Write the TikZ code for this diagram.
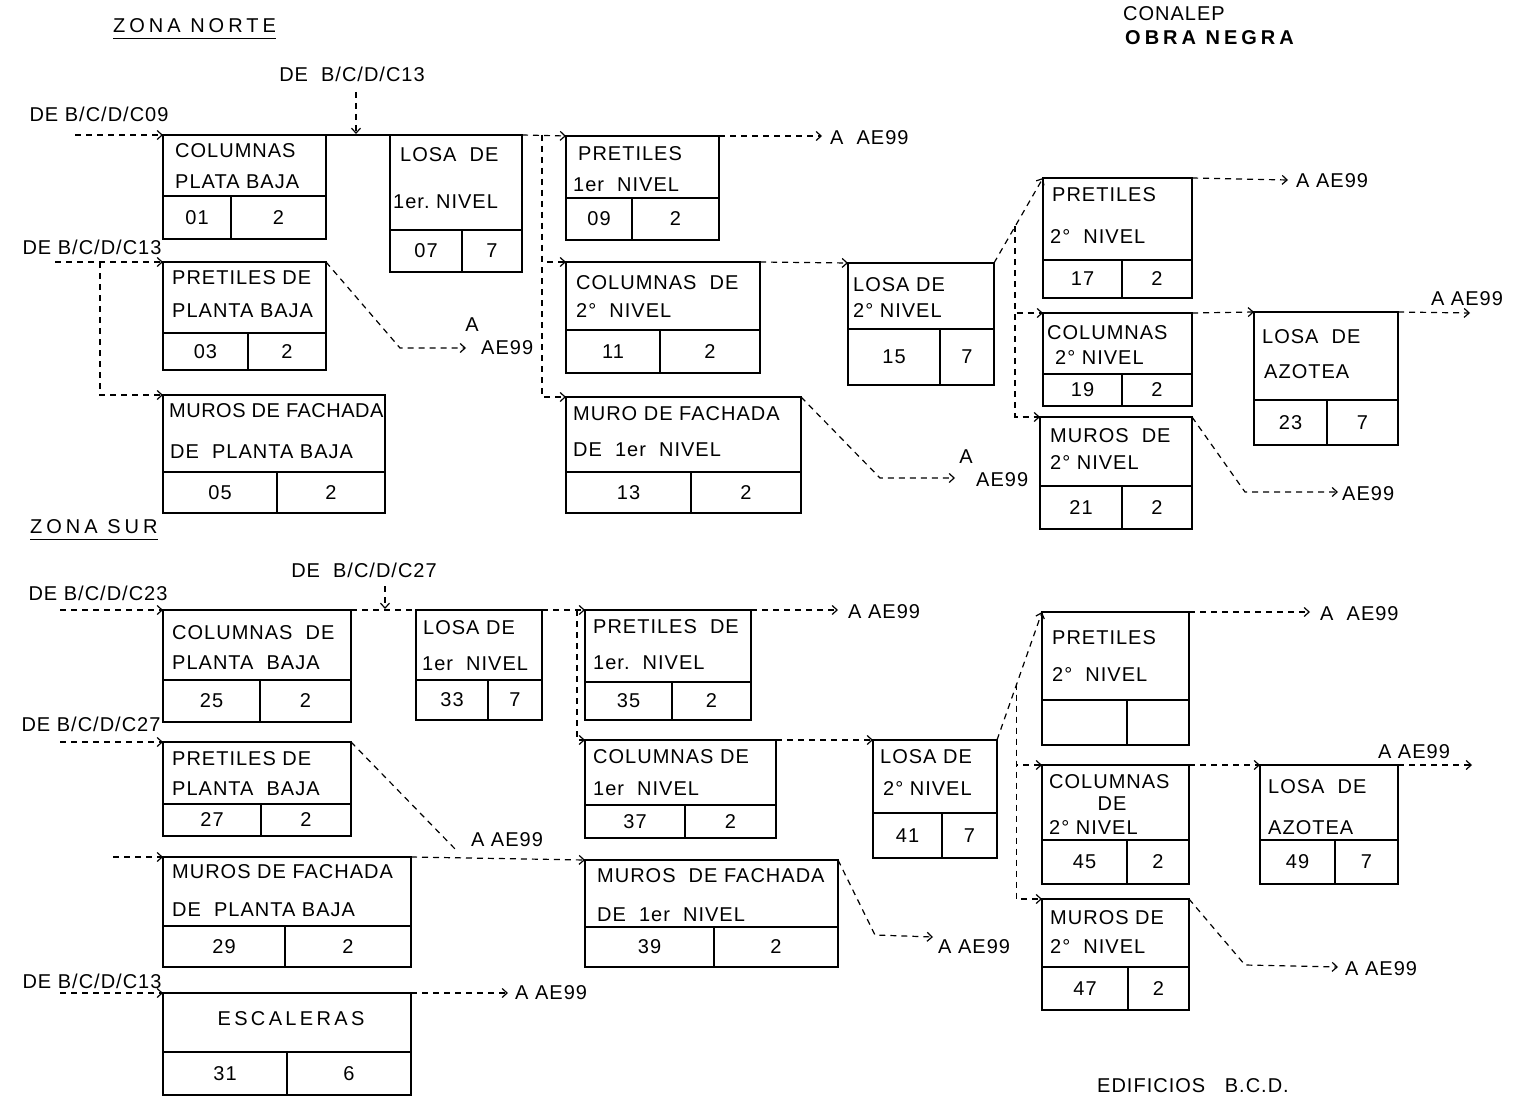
\documentclass[tikz,border=0pt]{standalone}
\usepackage{fontspec}
\setmainfont{Liberation Sans}[LetterSpace=5]
\newfontfamily\widefont{Liberation Sans}[LetterSpace=20]
\newfontfamily\tightfont{Liberation Sans}[LetterSpace=2.5]
\usetikzlibrary{arrows.meta,calc}
\newcommand{\actbox}[9]{%
  \node[boxst, minimum width={#4pt-#2pt}, minimum height={#5pt-#3pt}] (#1) at (#2,#3) {};
  \draw[boxline] (#2,#6) -- (#4,#6) (#7,#6) -- (#7,#5);
  \node[numst] (#1-n) at ({(#2+#7)/2},{(#6+#5)/2}) {#8};
  \node[numst] (#1-m) at ({(#7+#4)/2},{(#6+#5)/2}) {#9};
}
\begin{document}
\begin{tikzpicture}[x=1pt,y=-1pt, font=\fontsize{20}{24}\selectfont,
 boxst/.style={draw, line width=1.5pt, rectangle, inner sep=0pt, outer sep=0pt, anchor=north west},
 boxline/.style={line width=1.5pt},
 numst/.style={inner sep=0pt},
 tx/.style={anchor=west, inner sep=0pt},
 lb/.style={inner sep=0pt},
 dsh/.style={line width=1.2pt, dash pattern=on 6pt off 5pt},
 conn/.style={dsh, -{Straight Barb[length=5pt,width=9pt]}},
]
\useasboundingbox (0,0) rectangle (1514,1099);

% ---------------- boxes ----------------
\actbox{B01}{163}{135}{326}{239}{196}{231}{01}{2}
\actbox{B07}{390}{135}{522}{272}{230}{462}{07}{7}
\actbox{B03}{163}{262}{326}{370}{333}{248}{03}{2}
\actbox{B05}{163}{395}{385}{513}{472}{277}{05}{2}
\actbox{B09}{566}{136}{719}{240}{198}{632}{09}{2}
\actbox{B11}{566}{262}{760}{373}{330}{660}{11}{2}
\actbox{B13}{566}{397}{801}{513}{472}{691}{13}{2}
\actbox{B15}{848}{263}{994}{385}{329}{940}{15}{7}
\actbox{B17}{1043}{178}{1192}{298}{260}{1122}{17}{2}
\actbox{B19}{1043}{313}{1192}{406}{374}{1122}{19}{2}
\actbox{B21}{1040}{417}{1192}{529}{486}{1122}{21}{2}
\actbox{B23}{1254}{312}{1398}{445}{400}{1327}{23}{7}
\actbox{B25}{163}{610}{351}{722}{680}{260}{25}{2}
\actbox{B33}{416}{610}{542}{720}{680}{488}{33}{7}
\actbox{B35}{585}{610}{751}{720}{682}{672}{35}{2}
\actbox{B27}{163}{742}{351}{836}{804}{261}{27}{2}
\actbox{B37}{585}{740}{776}{838}{805}{685}{37}{2}
\actbox{B29}{163}{857}{411}{967}{926}{285}{29}{2}
\actbox{B39}{585}{860}{838}{967}{927}{714}{39}{2}
\actbox{B31}{163}{993}{411}{1095}{1052}{287}{31}{6}
\actbox{B41}{873}{740}{997}{858}{813}{942}{41}{7}
\actbox{B43}{1042}{612}{1189}{745}{700}{1127}{}{}
\actbox{B45}{1042}{765}{1189}{884}{840}{1127}{45}{2}
\actbox{B47}{1042}{899}{1189}{1010}{967}{1128}{47}{2}
\actbox{B49}{1260}{765}{1398}{884}{840}{1335}{49}{7}

% ---------------- titles ----------------
\node[tx] (B01-a) at (175,151) {COLUMNAS};
\node[tx] (B01-b) at (175,182) {PLATA\ BAJA};
\node[tx] (B07-a) at (400,155) {LOSA\ \ DE};
\node[tx] (B07-b) at (393,202) {1er.\ NIVEL};
\node[tx] (B03-a) at (172,278) {PRETILES\ DE};
\node[tx] (B03-b) at (172,311) {PLANTA\ BAJA};
\node[tx] (B05-a) at (169,411) {\tightfont MUROS DE FACHADA};
\node[tx] (B05-b) at (170,452) {DE\ \ PLANTA BAJA};
\node[tx] (B09-a) at (578,154) {PRETILES};
\node[tx] (B09-b) at (573,185) {1er\ \ NIVEL};
\node[tx] (B11-a) at (576,283) {COLUMNAS\ \ DE};
\node[tx] (B11-b) at (576,311) {2°\ \ NIVEL};
\node[tx] (B13-a) at (573,414) {MURO\ DE\ FACHADA};
\node[tx] (B13-b) at (573,450) {DE\ \ 1er\ \ NIVEL};
\node[tx] (B15-a) at (853,285) {LOSA DE};
\node[tx] (B15-b) at (853,311) {2° NIVEL};
\node[tx] (B17-a) at (1052,195) {PRETILES};
\node[tx] (B17-b) at (1050,237) {2°\ \ NIVEL};
\node[tx] (B19-a) at (1047,333) {COLUMNAS};
\node[tx] (B19-b) at (1055,358) {2°\ NIVEL};
\node[tx] (B21-a) at (1050,436) {MUROS\ \ DE};
\node[tx] (B21-b) at (1050,463) {2°\ NIVEL};
\node[tx] (B23-a) at (1262,337) {LOSA\ \ DE};
\node[tx] (B23-b) at (1264,372) {AZOTEA};
\node[tx] (B25-a) at (172,633) {COLUMNAS\ \ DE};
\node[tx] (B25-b) at (172,663) {PLANTA\ \ BAJA};
\node[tx] (B33-a) at (423,628) {LOSA DE};
\node[tx] (B33-b) at (422,664) {1er\ \ NIVEL};
\node[tx] (B35-a) at (593,627) {PRETILES\ \ DE};
\node[tx] (B35-b) at (593,663) {1er.\ \ NIVEL};
\node[tx] (B27-a) at (172,759) {PRETILES DE};
\node[tx] (B27-b) at (172,789) {PLANTA\ \ BAJA};
\node[tx] (B37-a) at (593,757) {COLUMNAS DE};
\node[tx] (B37-b) at (593,789) {1er\ \ NIVEL};
\node[tx] (B29-a) at (172,872) {MUROS\ DE\ FACHADA};
\node[tx] (B29-b) at (172,910) {DE\ \ PLANTA\ BAJA};
\node[tx] (B39-a) at (597,876) {MUROS\ \ DE FACHADA};
\node[tx] (B39-b) at (597,915) {DE\ \ 1er\ \ NIVEL};
\node[lb] (B31-a) at (291,1019) {E\,S\,C\,A\,L\,E\,R\,A\,S};
\node[tx] (B41-a) at (880,757) {LOSA DE};
\node[tx] (B41-b) at (883,789) {2° NIVEL};
\node[tx] (B43-a) at (1052,638) {PRETILES};
\node[tx] (B43-b) at (1052,675) {2°\ \ NIVEL};
\node[tx] (B45-a) at (1049,782) {COLUMNAS};
\node[lb] (B45-b) at (1112,804) {DE};
\node[tx] (B45-c) at (1049,828) {2°\ NIVEL};
\node[tx] (B47-a) at (1050,918) {MUROS\ DE};
\node[tx] (B47-b) at (1050,947) {2°\ \ NIVEL};
\node[tx] (B49-a) at (1268,787) {LOSA\ \ DE};
\node[tx] (B49-b) at (1268,828) {AZOTEA};

% ---------------- headings ----------------
\node[tx] (zn) at (113,26) {\widefont ZONA\ NORTE};
\draw[line width=1pt] ([yshift=-5pt]zn.south west) -- ([yshift=-5pt]zn.south east);
\node[tx] (zs) at (30,527) {\widefont ZONA\ SUR};
\draw[line width=1pt] ([yshift=-5pt]zs.south west) -- ([yshift=-5pt]zs.south east);
\node[tx] (con) at (1123,14) {CONALEP};
\node[tx] (obra) at (1125,38) {\widefont\bfseries OBRA\ NEGRA};
\node[tx] (edif) at (1097,1086) {EDIFICIOS\ \ \ B.C.D.};

% ---------------- north connectors ----------------
\node[lb] (dC09) at (99,114) {DE B/C/D/C09};
\coordinate (sC09) at (75,135);
\draw[conn] (sC09) -- (B01.north west);
\node[lb] (dC13a) at (352,74) {DE\ \ B/C/D/C13};
\coordinate (sC13a) at (356,92);
\coordinate (eC13a) at (356,134);
\draw[conn] (sC13a) -- (eC13a);
\draw[line width=1.2pt] (B01.north east) -- (B07.north west);
\coordinate (j1) at (542,135);
\draw[conn] (B07.north east) -- (B09.north west);
\draw[conn] (j1) |- (B11.north west);
\draw[conn] (j1) |- (B13.north west);
\coordinate (e09) at (822,136);
\draw[conn] (B09.north east) -- (e09);
\node[tx] (a09) at (830,138) {A\ \ AE99};
\draw[conn] (B11.north east) -- (B15.north west);
\coordinate (k13) at (880,478);
\coordinate (e13) at (955,478);
\draw[conn] (B13.north east) -- (k13) -- (e13);
\node[lb] (a13a) at (966,457) {A};
\node[tx] (a13b) at (976,480) {AE99};

\node[lb] (dC13b) at (92,247) {DE B/C/D/C13};
\coordinate (sC13b) at (55,262);
\coordinate (j3) at (100,262);
\draw[conn] (sC13b) -- (B03.north west);
\draw[conn] (j3) |- (B05.north west);
\coordinate (k03) at (400,348);
\coordinate (e03) at (466,348);
\draw[conn] (B03.north east) -- (k03) -- (e03);
\node[lb] (a03a) at (472,325) {A};
\node[tx] (a03b) at (481,348) {AE99};

\draw[conn] (B15.north east) -- (B17.north west);
\coordinate (j15) at ($(B15.north east)!0.43!(B17.north west)$);
\draw[conn] (j15) |- (B19.north west);
\draw[conn] (j15) |- (B21.north west);
\coordinate (e17) at (1288,180);
\draw[conn] (B17.north east) -- (e17);
\node[tx] (a17) at (1296,181) {A\ AE99};
\draw[conn] (B19.north east) -- (B23.north west);
\coordinate (e23) at (1470,313);
\draw[conn] (B23.north east) -- (e23);
\node[lb] (a23) at (1467,299) {A AE99};
\coordinate (k21) at (1245,492);
\coordinate (e21) at (1338,492);
\draw[conn] (B21.north east) -- (k21) -- (e21);
\node[tx] (a21) at (1342,494) {AE99};

% ---------------- south connectors ----------------
\node[lb] (dC23) at (98,593) {DE B/C/D/C23};
\coordinate (sC23) at (60,610);
\draw[conn] (sC23) -- (B25.north west);
\node[lb] (dC27a) at (364,570) {DE\ \ B/C/D/C27};
\coordinate (sC27a) at (385,586);
\coordinate (eC27a) at (385,609);
\draw[conn] (sC27a) -- (eC27a);
\draw[dsh] (B25.north east) -- (B33.north west);
\draw[conn] (B33.north east) -- (B35.north west);
\coordinate (j33) at (577,610);
\draw[conn] (j33) |- (B37.north west);
\coordinate (e35) at (838,610);
\draw[conn] (B35.north east) -- (e35);
\node[tx] (a35) at (848,612) {A AE99};

\node[lb] (dC27b) at (91,724) {DE B/C/D/C27};
\coordinate (sC27b) at (60,742);
\draw[conn] (sC27b) -- (B27.north west);
\coordinate (k27) at (458,852);
\draw[dsh] (B27.north east) -- (k27);
\node[lb] (a27) at (507,840) {A AE99};
\coordinate (sM29) at (113,857);
\draw[conn] (sM29) -- (B29.north west);
\draw[conn] (B29.north east) -- (B39.north west);
\draw[conn] (B37.north east) -- (B41.north west);
\coordinate (k39) at (875,935);
\coordinate (e39) at (933,937);
\draw[conn] (B39.north east) -- (k39) -- (e39);
\node[tx] (a39) at (938,947) {A AE99};

\node[lb] (dC13c) at (92,981) {DE B/C/D/C13};
\coordinate (sC13c) at (60,993);
\draw[conn] (sC13c) -- (B31.north west);
\coordinate (e31) at (508,993);
\draw[conn] (B31.north east) -- (e31);
\node[tx] (a31) at (515,993) {A AE99};

\draw[conn] (B41.north east) -- (B43.north west);
\coordinate (j41) at ($(B41.north east)!0.44!(B43.north west)$);
\draw[conn] (j41) |- (B45.north west);
\draw[conn] (j41) |- (B47.north west);
\coordinate (e43) at (1310,612);
\draw[conn] (B43.north east) -- (e43);
\node[tx] (a43) at (1320,614) {A\ \ AE99};
\draw[conn] (B45.north east) -- (B49.north west);
\coordinate (e49) at (1472,765);
\draw[conn] (B49.north east) -- (e49);
\node[lb] (a49) at (1414,752) {A AE99};
\coordinate (k47) at (1245,965);
\coordinate (e47) at (1338,967);
\draw[conn] (B47.north east) -- (k47) -- (e47);
\node[tx] (a47) at (1345,969) {A AE99};
\end{tikzpicture}
\end{document}
